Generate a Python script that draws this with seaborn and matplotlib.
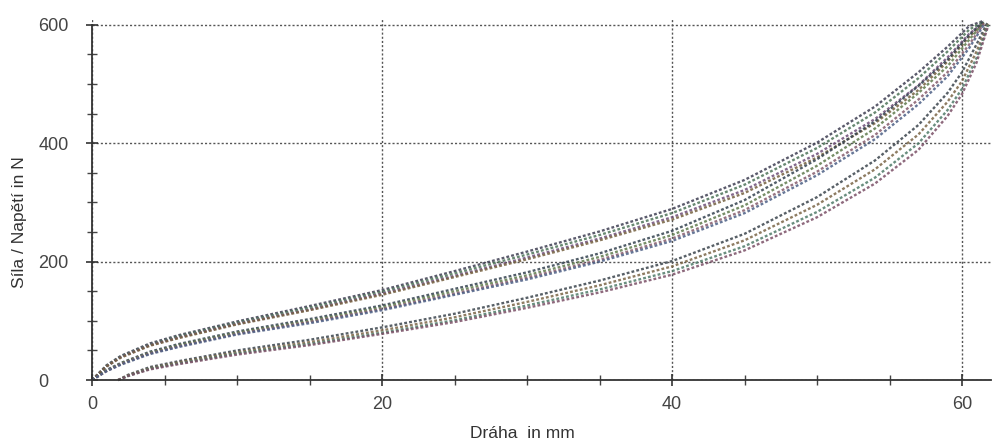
import matplotlib
matplotlib.use("Agg")
import matplotlib.pyplot as plt
from matplotlib.ticker import MultipleLocator
import seaborn as sns
import pandas as pd

# ---- data (Dráha in mm, Síla in N) ----
x_upper = [0, 1, 2, 4, 6, 10, 15, 20, 25, 30, 35, 40, 45, 50, 54, 57, 59, 60.5, 61.5]
upper_1 = [0, 25, 41, 62, 76, 99, 125, 152, 184, 217, 251, 289, 338, 401, 462, 520, 563, 598, 607]
upper_2 = [0, 24, 40, 60, 74, 97, 122, 149, 180, 212, 245, 282, 330, 392, 452, 510, 555, 592, 606]
upper_3 = [0, 23, 39, 59, 72, 95, 119, 146, 176, 207, 239, 275, 321, 382, 441, 498, 545, 585, 604]
upper_4 = [0, 23, 38, 58, 71, 94, 118, 144, 174, 204, 236, 271, 316, 376, 434, 490, 538, 580, 603]

x_middle = [0, 1, 2, 4, 6, 10, 15, 20, 25, 30, 35, 40, 45, 50, 54, 57, 59, 60.5, 61.5]
middle_1 = [0, 17, 29, 48, 61, 82, 103, 126, 154, 182, 214, 252, 304, 373, 437, 497, 541, 583, 606]
middle_2 = [0, 16, 28, 46, 59, 80, 100, 123, 150, 177, 208, 245, 295, 362, 425, 485, 530, 575, 604]
middle_3 = [0, 15, 27, 45, 57, 78, 98, 120, 146, 173, 203, 239, 287, 352, 414, 474, 520, 567, 602]
middle_4 = [0, 15, 26, 44, 56, 77, 96, 118, 144, 170, 200, 235, 282, 346, 407, 466, 513, 561, 600]

x_lower = [1.8, 2.5, 4, 6, 10, 15, 20, 25, 30, 35, 40, 45, 50, 54, 57, 59, 60, 61, 61.8]
lower_1 = [0, 9, 22, 32, 50, 68, 89, 112, 139, 168, 201, 247, 309, 371, 431, 485, 520, 567, 606]
lower_2 = [0, 8, 20, 30, 47, 64, 84, 106, 132, 160, 192, 236, 296, 356, 415, 470, 505, 555, 602]
lower_3 = [0, 7, 19, 28, 45, 61, 80, 101, 126, 153, 184, 226, 284, 342, 400, 456, 492, 544, 600]
lower_4 = [0, 7, 18, 27, 43, 59, 78, 98, 122, 148, 178, 219, 275, 332, 389, 446, 483, 536, 598]

x_ticks = [0, 20, 40, 60]
y_ticks = [0, 200, 400, 600]
x_label = "Dráha  in mm"
y_label = "Síla / Napětí in N"

series = {
    "U1": (x_upper, upper_1), "U2": (x_upper, upper_2),
    "U3": (x_upper, upper_3), "U4": (x_upper, upper_4),
    "M1": (x_middle, middle_1), "M2": (x_middle, middle_2),
    "M3": (x_middle, middle_3), "M4": (x_middle, middle_4),
    "L1": (x_lower, lower_1), "L2": (x_lower, lower_2),
    "L3": (x_lower, lower_3), "L4": (x_lower, lower_4),
}
rows = []
for name, (xs, ys) in series.items():
    for xv, yv in zip(xs, ys):
        rows.append({"x": xv, "y": yv, "series": name})
df = pd.DataFrame(rows)

colors = ["#3e3e52", "#4d7358", "#6e4f78", "#75603f",
          "#34424f", "#5f7a4c", "#855c6c", "#4c5f85",
          "#3b444c", "#7a6546", "#4f7a68", "#7a4f66"]

sns.set_style("white")
plt.rcParams["font.family"] = ["Liberation Sans", "DejaVu Sans"]

fig = plt.figure(figsize=(9.98, 4.44), dpi=100)
ax = fig.add_axes([0.0922, 0.144, 0.9008, 0.816])

sns.lineplot(data=df, x="x", y="y", hue="series", palette=colors,
             sort=False, estimator=None, legend=False, ax=ax)
for ln in ax.lines:
    ln.set_linestyle((0, (1.2, 0.9)))
    ln.set_linewidth(1.7)
    ln.set_alpha(0.85)
    ln.set_clip_on(False)

ax.set_xlim(0, 62)
ax.set_ylim(0, 612)
ax.set_xticks(x_ticks)
ax.set_yticks(y_ticks)
ax.xaxis.set_minor_locator(MultipleLocator(5))
ax.yaxis.set_minor_locator(MultipleLocator(50))

ax.grid(True, which="major", linestyle=(0, (1.5, 1.5)), color="#555555", linewidth=1.0)
ax.set_axisbelow(True)

for s in ["top", "right"]:
    ax.spines[s].set_visible(False)
for s in ["left", "bottom"]:
    ax.spines[s].set_color("#333333")
    ax.spines[s].set_linewidth(1.3)
ax.spines["left"].set_bounds(0, 600)

ax.tick_params(axis="both", which="both", bottom=True, left=True)
ax.tick_params(axis="both", which="major", direction="inout", length=9,
               width=1.2, color="#333333", labelsize=13, labelcolor="#444444")
ax.tick_params(axis="both", which="minor", direction="inout", length=7,
               width=1.0, color="#444444")
ax.tick_params(axis="y", which="major", pad=34)
ax.tick_params(axis="x", which="major", pad=7)
for lab in ax.get_yticklabels():
    lab.set_horizontalalignment("left")

ax.set_xlabel(x_label, fontsize=12.5, color="#333333")
ax.set_ylabel(y_label, fontsize=12.5, color="#333333")
ax.xaxis.set_label_coords(0.479, -0.128)
ax.yaxis.set_label_coords(-0.072, 0.436)

fig.savefig("out.png", dpi=100)
